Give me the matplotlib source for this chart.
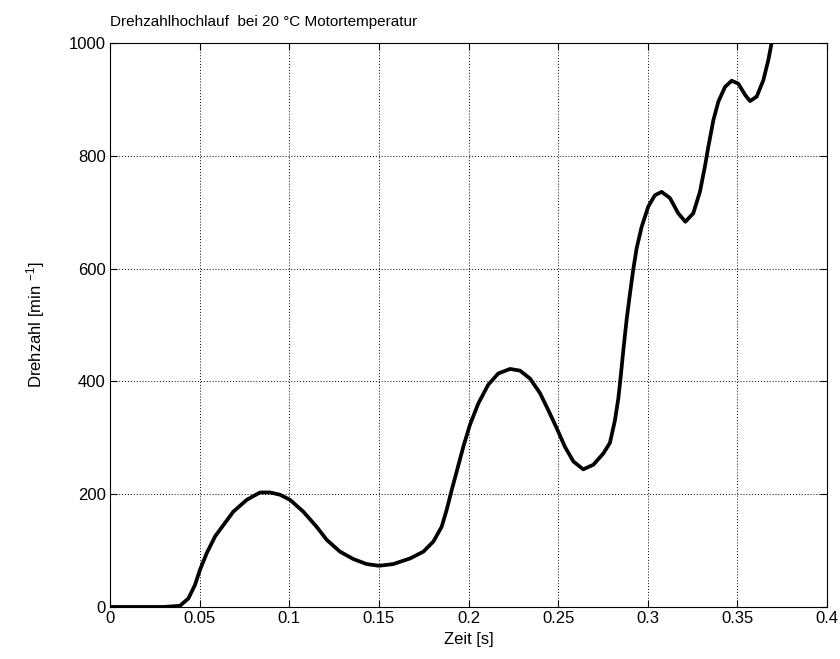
import matplotlib
matplotlib.use("Agg")
import matplotlib.pyplot as plt

plt.rcParams['font.family'] = ['Liberation Sans', 'DejaVu Sans']
plt.rcParams['mathtext.fontset'] = 'custom'
plt.rcParams['mathtext.rm'] = 'Liberation Sans'
plt.rcParams['mathtext.it'] = 'Liberation Sans'

# Zeit [s] und Drehzahl [1/min]
zeit = [0.0, 0.030, 0.039, 0.0437, 0.0474, 0.0502, 0.0539, 0.0586, 0.0632, 0.0688,
        0.0763, 0.0837, 0.0893, 0.0948, 0.1004, 0.1078, 0.1153, 0.1209, 0.1283,
        0.1357, 0.1432, 0.1501, 0.158, 0.1674, 0.1748, 0.1804, 0.185, 0.1878,
        0.1906, 0.1934, 0.1971, 0.2008, 0.2055, 0.211, 0.2166, 0.2232, 0.2287,
        0.2343, 0.2399, 0.2445, 0.2492, 0.2538, 0.2585, 0.264, 0.2696, 0.2752,
        0.2789, 0.2817, 0.2836, 0.2849, 0.2864, 0.2882, 0.2901, 0.2919, 0.2938,
        0.2966, 0.3003, 0.304, 0.3077, 0.3124, 0.317, 0.3210, 0.3254, 0.3291,
        0.3319, 0.3338, 0.3366, 0.3394, 0.3431, 0.3468, 0.3505, 0.3543, 0.3571,
        0.3608, 0.3645, 0.3673, 0.3691]
drehzahl = [0, 0, 2, 15, 39, 66, 95, 125, 145, 169,
            190, 203, 203, 199, 190, 169, 142, 119, 98,
            85, 76, 73, 76, 86, 98, 116, 142, 172,
            207, 240, 284, 323, 361, 394, 414, 422, 419,
            405, 379, 349, 317, 284, 258, 244, 252, 272,
            291, 331, 370, 408, 456, 509, 556, 598, 636,
            674, 710, 730, 736, 725, 698, 683, 698, 736,
            781, 816, 863, 896, 922, 933, 928, 908, 897,
            905, 934, 970, 1000]

fig = plt.figure(figsize=(8.4, 6.59), dpi=100)
ax = fig.add_axes([0.131, 0.079, 0.8535, 0.8558])

ax.plot(zeit, drehzahl, color='black', linewidth=2.7,
        solid_joinstyle='round', solid_capstyle='round')

ax.set_xlim(0, 0.4)
ax.set_ylim(0, 1000)
ax.set_xticks([0, 0.05, 0.1, 0.15, 0.2, 0.25, 0.3, 0.35, 0.4])
ax.set_xticklabels(['0', '0.05', '0.1', '0.15', '0.2', '0.25', '0.3', '0.35', '0.4'])
ax.set_yticks([0, 200, 400, 600, 800, 1000])
ax.tick_params(direction='in', top=True, right=True, labelsize=12, length=5, pad=3)
ax.grid(True, color='black', linestyle=(0, (1, 2)), linewidth=0.7)

ax.set_xlabel('Zeit [s]', fontsize=12, labelpad=4)
ax.set_ylabel(r'Drehzahl [min $^{-1}$]', fontsize=12, labelpad=16)
ax.set_title('Drehzahlhochlauf  bei 20 °C Motortemperatur', fontsize=11,
             loc='left', pad=12)

fig.savefig('out.png', dpi=100)
